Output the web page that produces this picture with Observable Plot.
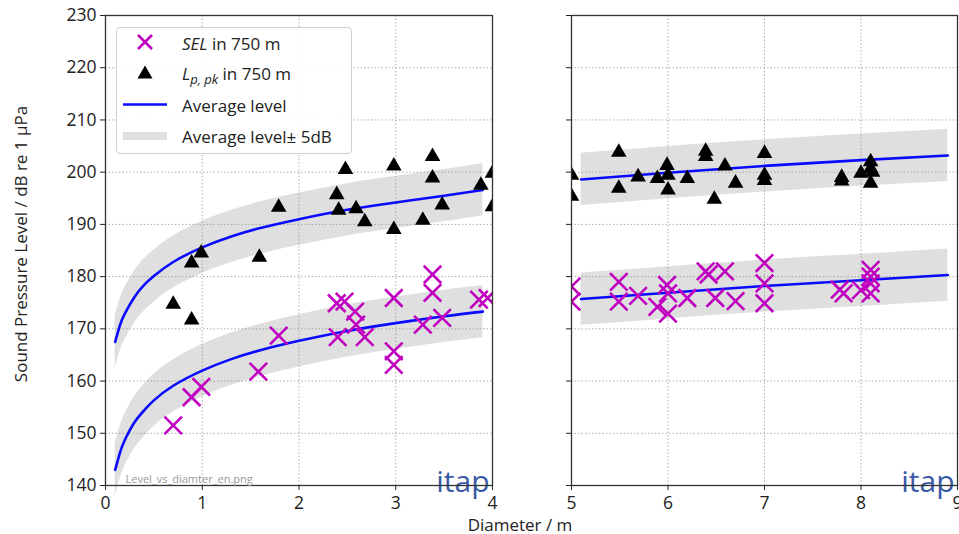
<!DOCTYPE html>
<html>
<head>
<meta charset="utf-8">
<script src="https://cdn.jsdelivr.net/npm/d3@7"></script>
<script src="https://cdn.jsdelivr.net/npm/@observablehq/plot@0.6"></script>
<style>
  html, body { margin: 0; padding: 0; background: #fff; }
  #wrap { position: relative; width: 959px; height: 534px; overflow: hidden; font-family: "Open Sans", sans-serif; color: #222; }
  .panel { position: absolute; top: 0; }
  .panel svg { max-width: none; }
  #ylab { position: absolute; left: 20px; top: 244px; transform: translate(-50%, -50%) rotate(-90deg); white-space: nowrap; font-size: 17px; }
  #xlab { position: absolute; left: 520px; top: 524px; transform: translate(-50%, -50%); white-space: nowrap; font-size: 17px; line-height: 1; }
  #legend { position: absolute; left: 116px; top: 27px; width: 236px; height: 127px; border: 1px solid #d0d0d0; border-radius: 4px; background: rgba(255,255,255,0.9); box-sizing: border-box; font-size: 17px; }
  .row { position: absolute; left: 0; height: 30px; width: 100%; }
  .row svg { position: absolute; left: 5px; top: 0; }
  .row span { position: absolute; left: 65px; top: 50%; transform: translateY(-50%); white-space: nowrap; }
  sub { font-size: 13px; font-style: italic; vertical-align: -4px; line-height: 0; }
</style>
</head>
<body>
<div id="wrap">
  <div id="left" class="panel" style="left:0px;width:500px"></div>
  <div id="right" class="panel" style="left:500px;width:459px"></div>
  <div id="ylab">Sound Pressure Level / dB re 1 μPa</div>
  <div id="xlab">Diameter / m</div>
  <div id="legend"></div>
</div>
<script>
// ---- Data ----
// Peak level L_p,pk in 750 m (triangles)
const peakDiameter = [0.70,0.89,0.89,0.99,1.59,1.79,2.39,2.41,2.48,2.59,2.68,2.98,2.98,3.28,3.38,3.38,3.48,3.88,4.0,4.0,
  5.0,5.0,5.49,5.49,5.69,5.89,5.99,6.0,6.0,6.2,6.39,6.39,6.59,6.48,6.7,7.0,7.0,7.0,7.8,7.8,8.0,8.1,8.1,8.1,8.12];
const peakLevel = [174.7,171.7,182.6,184.5,183.7,193.3,195.7,192.7,200.5,193.0,190.5,201.2,189.0,190.8,203.0,198.9,193.7,197.5,199.8,193.4,
  199.4,195.4,203.8,196.9,199.1,198.8,201.3,199.4,196.6,198.8,204.0,203.0,201.2,194.8,197.9,203.6,199.4,198.4,199.0,198.3,199.8,202.0,200.7,197.9,200.0];
// SEL in 750 m (crosses)
const selDiameter = [0.70,0.89,0.99,1.58,1.79,2.39,2.47,2.40,2.58,2.59,2.68,2.98,2.98,2.98,3.28,3.38,3.38,3.48,3.86,3.95,
  5.0,5.0,5.49,5.49,5.69,5.89,5.99,6.0,6.0,6.2,6.39,6.42,6.59,6.49,6.7,7.0,7.0,7.0,7.78,7.82,8.0,8.1,8.1,8.1,8.1];
const selLevel = [151.5,156.9,158.9,161.8,168.7,174.9,175.2,168.4,173.3,170.8,168.4,175.9,165.7,163.1,170.8,180.4,176.9,172.1,175.6,175.9,
  178.1,175.2,179.0,175.2,176.3,174.2,178.4,176.8,172.9,175.9,181.0,180.4,181.0,175.9,175.3,182.6,178.7,174.9,177.5,176.8,177.4,181.3,180.0,178.7,176.8];
// Average level curves
const fitDiameterLeft = [0.1,0.15,0.2,0.3,0.4,0.5,0.7,1.0,1.3,1.6,2.0,2.5,3.0,3.5,3.9];
const fitPeakLeft = [167.5,170.7,172.9,176.1,178.4,180.1,182.8,185.6,187.7,189.3,191.0,192.8,194.2,195.5,196.6];
const fitSelLeft = [143.0,146.3,148.7,152.1,154.4,156.3,159.1,162.0,164.2,165.9,167.7,169.6,171.1,172.4,173.3];
const fitDiameterRight = [5.1,6.0,7.0,8.0,8.9];
const fitPeakRight = [198.6,199.9,201.2,202.3,203.2];
const fitSelRight = [175.7,176.9,178.2,179.3,180.3];
const bandHalfWidth = 5; // ± 5 dB
const yTicks = [140,150,160,170,180,190,200,210,220,230];
const xTicksLeft = [0,1,2,3,4];
const xTicksRight = [5,6,7,8,9];
const legendLabels = ["SEL in 750 m", "L p, pk in 750 m", "Average level", "Average level± 5dB"];
const watermark = "itap";
const fileLabel = "Level_vs_diamter_en.png";

// ---- Build tables ----
const peaks = peakDiameter.map((d, i) => ({d, level: peakLevel[i]}));
const sels = selDiameter.map((d, i) => ({d, level: selLevel[i]}));
const fitLeft = [
  ...fitDiameterLeft.map((d, i) => ({d, level: fitPeakLeft[i], s: "peak"})),
  ...fitDiameterLeft.map((d, i) => ({d, level: fitSelLeft[i], s: "sel"}))
];
const fitRight = [
  ...fitDiameterRight.map((d, i) => ({d, level: fitPeakRight[i], s: "peak"})),
  ...fitDiameterRight.map((d, i) => ({d, level: fitSelRight[i], s: "sel"}))
];

const MAG = "#c000c0", BLUE = "#0a0aff";

function panel({width, marginLeft, marginRight, domain, xTicks, fit, showYLabels, showFile}) {
  const inDom = r => r.d >= domain[0] - 0.05 && r.d <= domain[1] + 0.05;
  const marks = [
    Plot.gridX(xTicks, {stroke: "#9a9a9a", strokeOpacity: 0.8, strokeDasharray: "1.5,2"}),
    Plot.gridY(yTicks, {stroke: "#9a9a9a", strokeOpacity: 0.8, strokeDasharray: "1.5,2"}),
    Plot.areaY(fit, {x: "d", y1: r => r.level - bandHalfWidth, y2: r => r.level + bandHalfWidth, z: "s", fill: "#8c8c8c", fillOpacity: 0.28, curve: "natural"}),
    Plot.line(fit, {x: "d", y: "level", z: "s", stroke: BLUE, strokeWidth: 2.6, curve: "natural"}),
    Plot.dot(peaks.filter(inDom), {x: "d", y: "level", symbol: "triangle", r: 5.8, fill: "black", clip: true}),
    Plot.dot(sels.filter(inDom), {x: "d", y: "level", symbol: "times", r: 8, stroke: MAG, strokeWidth: 2.6, clip: true}),
    Plot.text([watermark], {text: t => t, frameAnchor: "bottom-right", textAnchor: "end", lineAnchor: "bottom", dx: -3, dy: 6, fontSize: 30, fill: "#3a5aa6"}),
    Plot.frame({stroke: "#333", strokeWidth: 1.3}),
    Plot.axisX(xTicks, {tickSize: 5, tickPadding: 6, label: null, fontSize: 17.5}),
    Plot.axisY(yTicks, {tickSize: 5, tickPadding: 4, label: null, fontSize: 17.5, tickFormat: showYLabels ? (t => String(t)) : (() => "")})
  ];
  if (showFile) marks.push(Plot.text([fileLabel], {text: t => t, frameAnchor: "bottom-left", textAnchor: "start", lineAnchor: "bottom", dx: 20, dy: -3, fontSize: 11, fill: "#9a9a9a"}));
  return Plot.plot({
    width, height: 534, marginTop: 15, marginBottom: 49, marginLeft, marginRight,
    style: {fontFamily: "Open Sans", color: "#222", background: "transparent", overflow: "visible"},
    x: {domain, axis: null},
    y: {domain: [140, 230], axis: null},
    marks
  });
}

document.getElementById("left").append(panel({width: 500, marginLeft: 105, marginRight: 8, domain: [0, 4], xTicks: xTicksLeft, fit: fitLeft, showYLabels: true, showFile: true}));
document.getElementById("right").append(panel({width: 459, marginLeft: 71, marginRight: 2, domain: [5, 9], xTicks: xTicksRight, fit: fitRight, showYLabels: false, showFile: false}));

// ---- Legend ----
const legend = document.getElementById("legend");
const rowTops = [0, 30, 62, 93];
const markerSvgs = [
  `<svg width="50" height="30"><path d="M16,7 L30,21 M30,7 L16,21" stroke="${MAG}" stroke-width="2.6"/></svg>`,
  `<svg width="50" height="30"><path d="M23,7.5 L30.5,20.5 L15.5,20.5 Z" fill="black"/></svg>`,
  `<svg width="50" height="30"><line x1="1" x2="45" y1="14.5" y2="14.5" stroke="${BLUE}" stroke-width="2.6"/></svg>`,
  `<svg width="50" height="30"><rect x="1" y="11" width="44" height="8" fill="#8c8c8c" fill-opacity="0.28"/></svg>`
];
const peakParts = legendLabels[1].split(" ");
const labelHtml = [
  `<i>${legendLabels[0].split(" ")[0]}</i> ${legendLabels[0].split(" ").slice(1).join(" ")}`,
  `<i>${peakParts[0]}</i><sub>${peakParts[1]} ${peakParts[2]}</sub> ${peakParts.slice(3).join(" ")}`,
  legendLabels[2],
  legendLabels[3]
];
rowTops.forEach((t, i) => {
  const row = document.createElement("div");
  row.className = "row";
  row.style.top = t + "px";
  row.innerHTML = markerSvgs[i] + `<span>${labelHtml[i]}</span>`;
  legend.append(row);
});
</script>
</body>
</html>
